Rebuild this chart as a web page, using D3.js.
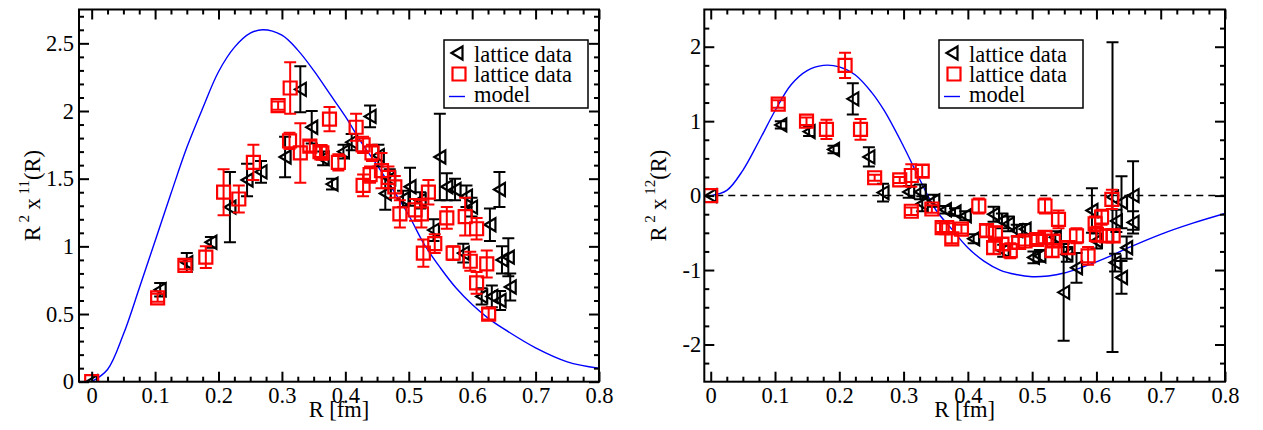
<!DOCTYPE html>
<html>
<head>
<meta charset="utf-8">
<script src="https://cdn.jsdelivr.net/npm/d3@7"></script>
<style>
  body { margin: 0; background: #fff; }
</style>
</head>
<body>
<div id="chart"></div>
<script>
// values: [R, value, error]
const leftTri = [
  [0, 0, 0], [0.108, 0.68, 0.05], [0.150, 0.88, 0.07], [0.188, 1.03, 0.04], [0.218, 1.29, 0.26],
  [0.245, 1.49, 0.12], [0.267, 1.55, 0.08], [0.305, 1.66, 0.15], [0.329, 2.16, 0.17], [0.347, 1.88, 0.12],
  [0.365, 1.65, 0.05], [0.379, 1.46, 0.04], [0.397, 1.70, 0.05], [0.410, 1.77, 0.06], [0.439, 1.96, 0.08],
  [0.452, 1.67, 0.08], [0.463, 1.39, 0.12], [0.470, 1.50, 0.07], [0.491, 1.35, 0.06], [0.502, 1.44, 0.14],
  [0.518, 1.34, 0.06], [0.539, 1.12, 0.08], [0.549, 1.66, 0.32], [0.560, 1.44, 0.10], [0.573, 1.42, 0.08],
  [0.586, 0.95, 0.07], [0.591, 1.37, 0.08], [0.599, 1.29, 0.07], [0.615, 0.63, 0.06], [0.628, 1.16, 0.12],
  [0.631, 0.63, 0.08], [0.643, 1.42, 0.13], [0.644, 0.60, 0.07], [0.647, 0.90, 0.10], [0.657, 0.92, 0.14],
  [0.660, 0.70, 0.10]
];
const leftSq = [
  [0, 0, 0], [0.104, 0.62, 0.03], [0.147, 0.86, 0.03], [0.180, 0.92, 0.08], [0.208, 1.40, 0.17],
  [0.232, 1.35, 0.10], [0.255, 1.62, 0.13], [0.294, 2.04, 0.03], [0.313, 2.17, 0.19], [0.312, 1.78, 0.06],
  [0.329, 1.69, 0.22], [0.344, 1.74, 0.04], [0.360, 1.70, 0.04], [0.363, 1.69, 0.05], [0.375, 1.94, 0.09],
  [0.389, 1.62, 0.06], [0.417, 1.88, 0.10], [0.428, 1.75, 0.06], [0.428, 1.45, 0.08], [0.439, 1.53, 0.06],
  [0.442, 1.69, 0.06], [0.457, 1.56, 0.13], [0.468, 1.51, 0.08], [0.478, 1.44, 0.08], [0.486, 1.24, 0.10],
  [0.510, 1.27, 0.08], [0.520, 1.24, 0.10], [0.523, 0.95, 0.10], [0.531, 1.40, 0.09], [0.541, 1.02, 0.07],
  [0.560, 1.21, 0.08], [0.570, 0.95, 0.05], [0.589, 1.22, 0.14], [0.597, 0.89, 0.07], [0.607, 1.13, 0.08],
  [0.607, 0.73, 0.08], [0.623, 0.87, 0.10], [0.626, 0.50, 0.04]
];
const rightTri = [
  [0, 0, 0], [0.109, 0.95, 0.05], [0.153, 0.86, 0.06], [0.191, 0.62, 0.05], [0.221, 1.30, 0.21],
  [0.246, 0.52, 0.13], [0.268, 0.04, 0.12], [0.308, 0.05, 0.08], [0.326, 0.05, 0.10], [0.329, -0.11, 0.10],
  [0.347, -0.07, 0.08], [0.365, -0.19, 0.05], [0.380, -0.22, 0.05], [0.396, -0.27, 0.06], [0.409, -0.58, 0.06],
  [0.440, -0.25, 0.10], [0.453, -0.34, 0.10], [0.455, -0.74, 0.08], [0.463, -0.38, 0.10], [0.476, -0.47, 0.08],
  [0.489, -0.45, 0.07], [0.502, -0.83, 0.08], [0.512, -0.81, 0.08], [0.536, -0.56, 0.08], [0.549, -1.30, 0.65],
  [0.554, -0.79, 0.10], [0.569, -0.97, 0.20], [0.593, -0.20, 0.30], [0.600, -0.61, 0.10], [0.625, -0.02, 2.08],
  [0.631, -0.34, 0.15], [0.629, -0.90, 0.12], [0.639, -0.09, 0.35], [0.639, -1.10, 0.22], [0.647, -0.70, 0.15],
  [0.657, 0.00, 0.46], [0.657, -0.36, 0.15]
];
const rightSq = [
  [0, 0, 0], [0.105, 1.23, 0.05], [0.149, 1.00, 0.05], [0.180, 0.89, 0.13], [0.209, 1.75, 0.17],
  [0.233, 0.89, 0.14], [0.255, 0.24, 0.04], [0.294, 0.21, 0.04], [0.312, 0.27, 0.15], [0.329, 0.33, 0.08],
  [0.312, -0.21, 0.05], [0.344, -0.18, 0.05], [0.360, -0.43, 0.06], [0.367, -0.43, 0.06], [0.375, -0.58, 0.06],
  [0.390, -0.45, 0.06], [0.417, -0.14, 0.10], [0.429, -0.47, 0.08], [0.440, -0.70, 0.08], [0.443, -0.50, 0.08],
  [0.453, -0.65, 0.08], [0.466, -0.74, 0.10], [0.479, -0.63, 0.08], [0.489, -0.61, 0.06], [0.507, -0.59, 0.06],
  [0.520, -0.14, 0.10], [0.520, -0.56, 0.08], [0.531, -0.74, 0.08], [0.533, -0.61, 0.08], [0.541, -0.32, 0.12],
  [0.556, -0.70, 0.08], [0.569, -0.54, 0.10], [0.587, -0.81, 0.12], [0.598, -0.38, 0.10], [0.600, -0.52, 0.10],
  [0.608, -0.29, 0.10], [0.616, -0.54, 0.08], [0.624, -0.05, 0.13], [0.626, -0.54, 0.08]
];

// model curves, read at the R values below
const modelR = [0, 0.025, 0.05, 0.075, 0.1, 0.125, 0.15, 0.175, 0.2, 0.225, 0.25, 0.27, 0.3, 0.325, 0.35,
  0.375, 0.4, 0.425, 0.45, 0.475, 0.5, 0.525, 0.55, 0.575, 0.6, 0.625, 0.65, 0.7, 0.75, 0.8];
const leftModel = [0, 0.09, 0.35, 0.69, 1.04, 1.39, 1.73, 2.02, 2.29, 2.47, 2.575, 2.60, 2.56, 2.45, 2.30,
  2.13, 1.96, 1.77, 1.60, 1.42, 1.23, 1.01, 0.84, 0.69, 0.57, 0.47, 0.39, 0.25, 0.147, 0.099];
const rightModel = [0, 0.07, 0.34, 0.73, 1.14, 1.49, 1.68, 1.75, 1.73, 1.62, 1.39, 1.14, 0.66, 0.22, -0.19,
  -0.45, -0.70, -0.88, -1.00, -1.06, -1.09, -1.08, -1.04, -0.97, -0.89, -0.80, -0.70, -0.52, -0.37, -0.24];

// ticks
const xMajor = [0, 0.1, 0.2, 0.3, 0.4, 0.5, 0.6, 0.7, 0.8];
const xLabels = ["0", "0.1", "0.2", "0.3", "0.4", "0.5", "0.6", "0.7", "0.8"];
const leftYMajor = [0, 0.5, 1, 1.5, 2, 2.5];
const leftYLabels = ["0", "0.5", "1", "1.5", "2", "2.5"];
const rightYMajor = [-2, -1, 0, 1, 2];
const rightYLabels = ["-2", "-1", "0", "1", "2"];
const legendLabels = ["lattice data", "lattice data", "model"];

const width = 1263, height = 430;
const font = "'Liberation Serif', 'DejaVu Serif', serif";
const fs = 22.5;
const triPath = "M-5.5,0L5.5,-6.5L5.5,6.5Z";
const sqPath = "M-6.5,-6.5H6.5V6.5H-6.5Z";

const svg = d3.select("#chart").append("svg")
  .attr("width", width).attr("height", height)
  .attr("font-family", font);

function steps(a, b, s) {
  // minor tick positions
  const out = [];
  for (let i = 0; a + i * s <= b + 1e-9; i++) out.push(+(a + i * s).toFixed(4));
  return out;
}

const panels = [
  {
    left: 79, right: 599, top: 9.5, bottom: 381.7,
    xDomain: [-0.02, 0.8], yDomain: [0, 2.75],
    yMajor: leftYMajor, yLabels: leftYLabels, yMinor: steps(0, 2.7, 0.1),
    tri: leftTri, sq: leftSq, model: leftModel, sup: "11",
    yLabelX: 40, yPad: 5, legendX: 444, zeroLine: false
  },
  {
    left: 704.3, right: 1225, top: 9.5, bottom: 381.7,
    xDomain: [-0.01, 0.8], yDomain: [-2.5, 2.5],
    yMajor: rightYMajor, yLabels: rightYLabels, yMinor: steps(-2.25, 2.25, 0.25),
    tri: rightTri, sq: rightSq, model: rightModel, sup: "12",
    yLabelX: 666, yPad: 3, legendX: 939, zeroLine: true
  }
];

panels.forEach(drawPanel);

function drawPanel(p, idx) {
  const x = d3.scaleLinear().domain(p.xDomain).range([p.left, p.right]);
  const y = d3.scaleLinear().domain(p.yDomain).range([p.bottom, p.top]);
  const g = svg.append("g");

  g.append("clipPath").attr("id", "clip" + idx)
    .append("rect")
    .attr("x", p.left).attr("y", p.top)
    .attr("width", p.right - p.left).attr("height", p.bottom - p.top);

  const plot = g.append("g").attr("clip-path", `url(#clip${idx})`);

  if (p.zeroLine) {
    plot.append("line")
      .attr("x1", p.left).attr("x2", p.right)
      .attr("y1", y(0)).attr("y2", y(0))
      .attr("stroke", "#000").attr("stroke-width", 1.5)
      .attr("stroke-dasharray", "7,5");
  }

  // model
  const line = d3.line()
    .x((d, i) => x(modelR[i]))
    .y(d => y(d))
    .curve(d3.curveCatmullRom);
  plot.append("path")
    .datum(p.model)
    .attr("d", line)
    .attr("fill", "none")
    .attr("stroke", "#0000ff")
    .attr("stroke-width", 1.4);

  // error bars + symbols
  const series = [
    { data: p.tri, color: "#000", shape: triPath },
    { data: p.sq, color: "#ff0000", shape: sqPath }
  ];
  series.forEach(s => {
    const eb = plot.append("g").attr("stroke", s.color).attr("stroke-width", 2).attr("fill", "none");
    s.data.filter(d => d[2] > 0).forEach(d => {
      eb.append("line").attr("x1", x(d[0])).attr("x2", x(d[0]))
        .attr("y1", y(d[1] - d[2])).attr("y2", y(d[1] + d[2]));
      eb.append("line").attr("x1", x(d[0]) - 6).attr("x2", x(d[0]) + 6)
        .attr("y1", y(d[1] - d[2])).attr("y2", y(d[1] - d[2]));
      eb.append("line").attr("x1", x(d[0]) - 6).attr("x2", x(d[0]) + 6)
        .attr("y1", y(d[1] + d[2])).attr("y2", y(d[1] + d[2]));
    });
    const sym = plot.append("g").attr("stroke", s.color).attr("stroke-width", 2.2).attr("fill", "none");
    sym.selectAll("path")
      .data(s.data)
      .enter()
      .append("path")
      .attr("transform", d => `translate(${x(d[0])},${y(d[1])})`)
      .attr("d", s.shape);
  });

  // axes, ticks inward on all four sides
  const xMinor = steps(0, 0.8, 0.025).filter(v => !xMajor.some(m => Math.abs(m - v) < 1e-6));
  const yMinor = p.yMinor.filter(v => !p.yMajor.some(m => Math.abs(m - v) < 1e-6));
  const styleAxis = a => {
    a.attr("font-family", font).attr("font-size", fs);
    a.select(".domain").remove();
    a.selectAll("line").attr("stroke-width", 2);
    a.selectAll("text").attr("fill", "#000");
  };

  g.append("g").attr("transform", `translate(0,${p.bottom})`)
    .call(d3.axisBottom(x).tickValues(xMajor).tickSize(-10).tickPadding(5).tickFormat((d, i) => xLabels[i]))
    .call(styleAxis);
  g.append("g").attr("transform", `translate(0,${p.bottom})`)
    .call(d3.axisBottom(x).tickValues(xMinor).tickSize(-5).tickFormat(""))
    .call(styleAxis);
  g.append("g").attr("transform", `translate(0,${p.top})`)
    .call(d3.axisTop(x).tickValues(xMajor).tickSize(-10).tickFormat(""))
    .call(styleAxis);
  g.append("g").attr("transform", `translate(0,${p.top})`)
    .call(d3.axisTop(x).tickValues(xMinor).tickSize(-5).tickFormat(""))
    .call(styleAxis);

  g.append("g").attr("transform", `translate(${p.left},0)`)
    .call(d3.axisLeft(y).tickValues(p.yMajor).tickSize(-10).tickPadding(p.yPad).tickFormat((d, i) => p.yLabels[i]))
    .call(styleAxis);
  g.append("g").attr("transform", `translate(${p.left},0)`)
    .call(d3.axisLeft(y).tickValues(yMinor).tickSize(-5).tickFormat(""))
    .call(styleAxis);
  g.append("g").attr("transform", `translate(${p.right},0)`)
    .call(d3.axisRight(y).tickValues(p.yMajor).tickSize(-10).tickFormat(""))
    .call(styleAxis);
  g.append("g").attr("transform", `translate(${p.right},0)`)
    .call(d3.axisRight(y).tickValues(yMinor).tickSize(-5).tickFormat(""))
    .call(styleAxis);

  g.append("rect")
    .attr("x", p.left).attr("y", p.top)
    .attr("width", p.right - p.left).attr("height", p.bottom - p.top)
    .attr("fill", "none").attr("stroke", "#000").attr("stroke-width", 2);

  // axis titles
  g.append("text")
    .attr("x", (p.left + p.right) / 2).attr("y", 417)
    .attr("text-anchor", "middle")
    .attr("font-size", fs)
    .text("R [fm]");

  const yl = g.append("text")
    .attr("transform", `translate(${p.yLabelX},${(p.top + p.bottom) / 2}) rotate(-90)`)
    .attr("text-anchor", "middle")
    .attr("font-size", fs);
  yl.append("tspan").text("R");
  yl.append("tspan").attr("dy", -11).attr("font-size", 15).text(" 2");
  yl.append("tspan").attr("dy", 11).text(" x");
  yl.append("tspan").attr("dy", -11).attr("font-size", 15).text(" " + p.sup);
  yl.append("tspan").attr("dy", 11).text("(R)");

  // legend
  const lx = p.legendX, ly = 40;
  const lg = g.append("g");
  lg.append("rect")
    .attr("x", lx).attr("y", ly).attr("width", 144).attr("height", 68)
    .attr("fill", "#fff").attr("stroke", "#000").attr("stroke-width", 1.5);
  const rows = [ly + 13, ly + 34, ly + 56.5];
  const base = [ly + 21.5, ly + 42, ly + 62];
  lg.append("path").attr("transform", `translate(${lx + 13},${rows[0]})`)
    .attr("d", triPath).attr("fill", "none").attr("stroke", "#000").attr("stroke-width", 2.2);
  lg.append("path").attr("transform", `translate(${lx + 15},${rows[1]})`)
    .attr("d", sqPath).attr("fill", "none").attr("stroke", "#ff0000").attr("stroke-width", 2.2);
  lg.append("line").attr("x1", lx + 5).attr("x2", lx + 21).attr("y1", rows[2]).attr("y2", rows[2])
    .attr("stroke", "#0000ff").attr("stroke-width", 1.4);
  lg.selectAll("text.leg")
    .data(legendLabels)
    .enter()
    .append("text")
    .attr("class", "leg")
    .attr("x", lx + 30)
    .attr("y", (d, i) => base[i])
    .attr("font-size", fs)
    .text(d => d);
}
</script>
</body>
</html>
